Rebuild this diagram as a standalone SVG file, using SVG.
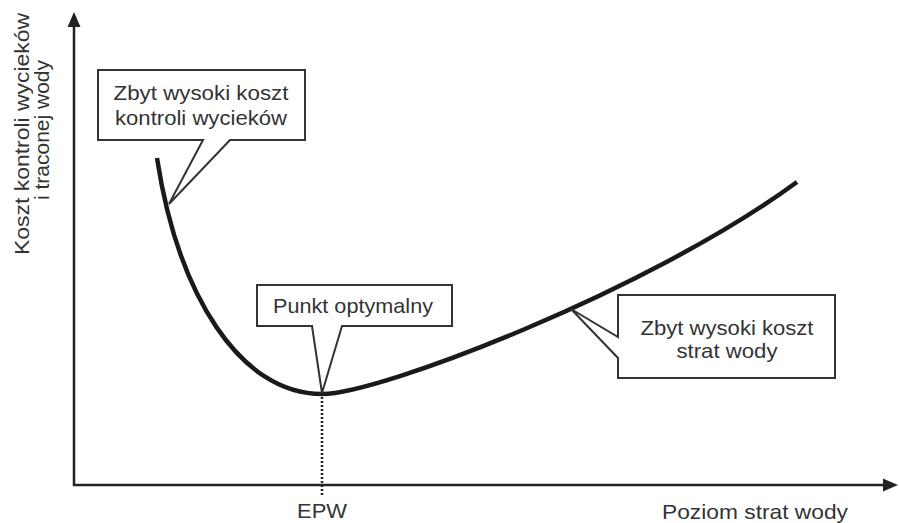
<svg xmlns="http://www.w3.org/2000/svg" width="899" height="523" viewBox="0 0 899 523">
<defs>
<style>
.t{font-family:"Liberation Sans",Arial,sans-serif;font-size:21px;fill:#333;text-anchor:middle}
.box{fill:#fff;stroke:#333;stroke-width:2;stroke-linejoin:miter}
.ax{stroke:#222;stroke-width:2.5;fill:none}
.curve{stroke:#1a1a1a;stroke-width:4.5;fill:none;stroke-linecap:butt}
</style>
</defs>
<rect width="899" height="523" fill="#fff"/>
<g id="connectors">
<line class="ax" x1="74" y1="486" x2="74" y2="22"/>
<polygon points="74,12 67.5,27 80.5,27" fill="#222"/>
<line class="ax" x1="73" y1="485" x2="886" y2="485"/>
<polygon points="898,485 883,478.5 883,491.5" fill="#222"/>
<path class="curve" d="M157,158 C178,295 240,394 322,394 C380,394 650,290 797,182"/>
<line x1="322" y1="397" x2="322" y2="497" stroke="#222" stroke-width="2.5" stroke-dasharray="2,2"/>
</g>
<g id="y-label">
<text class="t" transform="translate(29,134) rotate(-90)" textLength="242" lengthAdjust="spacingAndGlyphs">Koszt kontroli wycieków</text>
<text class="t" transform="translate(49,130) rotate(-90)" textLength="140" lengthAdjust="spacingAndGlyphs">i traconej wody</text>
</g>
<g id="x-label">
<text class="t" x="755" y="519" textLength="186" lengthAdjust="spacingAndGlyphs">Poziom strat wody</text>
</g>
<g id="epw">
<text class="t" x="322" y="518" textLength="50" lengthAdjust="spacingAndGlyphs">EPW</text>
</g>
<g id="callout-leak">
<path class="box" d="M98,70 H305 V140 H230 L169,204 L203,140 H98 Z"/>
<text class="t" x="201" y="100" textLength="175" lengthAdjust="spacingAndGlyphs">Zbyt wysoki koszt</text>
<text class="t" x="201" y="125" textLength="172" lengthAdjust="spacingAndGlyphs">kontroli wycieków</text>
</g>
<g id="callout-optimum">
<path class="box" d="M257,285 H452 V326 H342 L322,393 L312,326 H257 Z"/>
<text class="t" x="353" y="313" textLength="160" lengthAdjust="spacingAndGlyphs">Punkt optymalny</text>
</g>
<g id="callout-loss">
<path class="box" d="M618,295 H835 V378 H618 V358 L571,309 L618,337 Z"/>
<text class="t" x="727" y="335" textLength="173" lengthAdjust="spacingAndGlyphs">Zbyt wysoki koszt</text>
<text class="t" x="727" y="358" textLength="101" lengthAdjust="spacingAndGlyphs">strat wody</text>
</g>
</svg>
